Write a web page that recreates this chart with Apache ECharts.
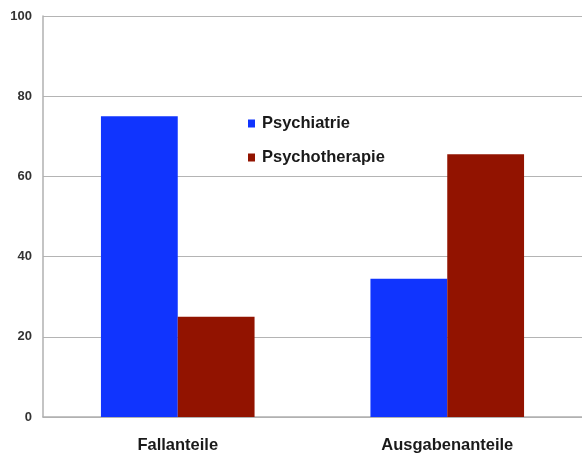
<!DOCTYPE html>
<html>
<head>
<meta charset="utf-8">
<script src="https://cdn.jsdelivr.net/npm/echarts@6/dist/echarts.min.js"></script>
<style>
  html, body { margin: 0; padding: 0; background: #fff; }
  #chart { width: 582px; height: 454px; }
</style>
</head>
<body>
<div id="chart"></div>
<script>
// Anteile von Psychiatrie und Psychotherapie (in %)
const categories = ['Fallanteile', 'Ausgabenanteile'];
const psychiatrie = [75, 34.5];
const psychotherapie = [25, 65.5];
const yTicks = [0, 20, 40, 60, 80, 100];

const chart = echarts.init(document.getElementById('chart'));
chart.setOption({
  animation: false,
  backgroundColor: '#ffffff',
  textStyle: { fontFamily: 'Liberation Sans, Arial, sans-serif' },
  legend: {
    orient: 'vertical',
    left: 243,
    top: 110,
    itemWidth: 7,
    itemHeight: 8,
    itemGap: 17,
    icon: 'rect',
    textStyle: { fontSize: 16.5, fontWeight: 'bold', color: '#1a1a1a', padding: [0, 0, 0, 2] },
    data: ['Psychiatrie', 'Psychotherapie']
  },
  grid: { left: 43, top: 16, right: -5, bottom: 35, containLabel: false },
  xAxis: {
    type: 'category',
    data: categories,
    axisLine: { show: true, lineStyle: { color: '#b0b0b0', width: 1.5 } },
    axisTick: { show: false },
    axisLabel: { fontSize: 16.5, fontWeight: 'bold', color: '#1a1a1a', margin: 20 }
  },
  yAxis: {
    type: 'value',
    min: yTicks[0],
    max: yTicks[yTicks.length - 1],
    interval: 20,
    axisLine: { show: true, lineStyle: { color: '#b0b0b0', width: 1.5 } },
    axisTick: { show: false },
    axisLabel: { fontSize: 13, fontWeight: 'bold', color: '#333', margin: 11 },
    splitLine: { show: true, lineStyle: { color: '#b4b4b4', width: 1.2 } }
  },
  series: [
    {
      name: 'Psychiatrie',
      type: 'bar',
      data: psychiatrie,
      barGap: '0%',
      barCategoryGap: '43%',
      itemStyle: { color: '#1034fe' }
    },
    {
      name: 'Psychotherapie',
      type: 'bar',
      data: psychotherapie,
      barGap: '0%',
      barCategoryGap: '43%',
      itemStyle: { color: '#921300' }
    }
  ]
});
</script>
</body>
</html>
